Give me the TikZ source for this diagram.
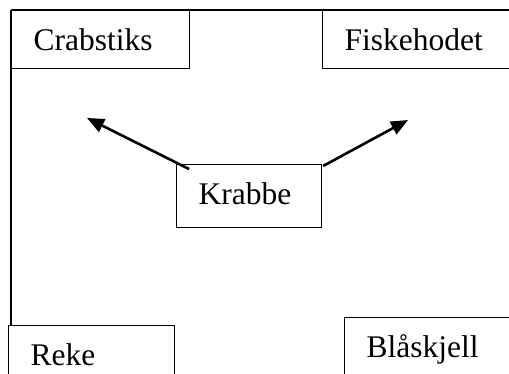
\documentclass[tikz,border=0pt]{standalone}
\usepackage{fontspec}
\setmainfont{Liberation Serif}
\usetikzlibrary{arrows.meta}
\begin{document}
\begin{tikzpicture}[x=1pt,y=1pt,
  wbox/.style={draw=black, line width=1.1pt, fill=white, rectangle, anchor=north west,
    inner xsep=22pt, inner ysep=0pt, align=left, text height=39.5pt,
    font=\fontsize{31.5}{36}\selectfont},
  warrow/.style={line width=2.6pt, -{Triangle[length=17pt,width=14pt]}}]
\useasboundingbox (0,0) rectangle (509,-374);
\clip (0,0) rectangle (509,-374);
% outer frame
\draw[line width=1.1pt] (11,-10) -- (530,-10);
\draw[line width=2.6pt] (11,-10.5) -- (11,-325);
% boxes
\node[wbox, text width=134pt, text depth=18.5pt] (crab) at (11,-10) {Crabstiks};
\node[wbox, text width=170pt, text depth=18.5pt] (fisk) at (322,-10) {Fiskehodet};
\node[wbox, text width=101pt, text depth=23.5pt] (krab) at (176,-164) {Krabbe};
\node[wbox, text width=122pt, text depth=40pt] (reke) at (8,-325) {Reke};
\node[wbox, text width=170pt, text depth=40pt] (blaa) at (344,-317) {Blåskjell};
% arrows
\coordinate (tl) at (87,-118);
\coordinate (tr) at (408,-120);
\draw[warrow] ([shift={(13,-5)}]krab.north west) -- (tl);
\draw[warrow] ([shift={(1,-2)}]krab.north east) -- (tr);
\end{tikzpicture}
\end{document}
